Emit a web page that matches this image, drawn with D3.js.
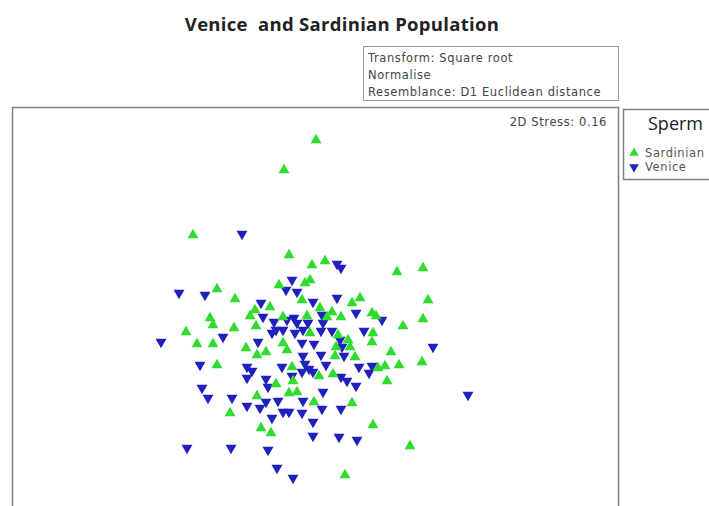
<!DOCTYPE html>
<html>
<head>
<meta charset="utf-8">
<script src="https://cdn.jsdelivr.net/npm/d3@7"></script>
<style>
  html, body { margin: 0; padding: 0; background: #fff; }
  svg { display: block; }
</style>
</head>
<body>
<svg id="chart" width="709" height="506"></svg>
<script>
// nMDS ordination coordinates (axis 1, axis 2) per sperm sample
const sardinianX = [0.01,-0.31,-1.22,-0.26,-0.03,0.10,0.82,1.08,-0.98,-0.80,-0.36,-0.10,-0.05,-0.13,0.37,0.45,1.13,-1.05,-1.02,-1.29,-0.81,-1.18,-1.02,-0.69,-0.65,-0.60,-0.45,-0.32,-0.08,0.05,0.17,0.26,0.57,0.61,0.12,-0.59,-0.05,0.33,-0.32,-0.28,-0.49,-0.58,0.21,0.23,0.35,0.20,0.40,0.88,1.08,0.58,0.57,0.76,1.07,0.84,0.70,0.63,-0.98,-0.23,0.04,0.18,0.72,-0.39,-0.22,-0.26,-0.18,-0.58,-0.01,0.37,-0.85,0.58,-0.54,-0.44,0.95,0.30];
const sardinianY = [1.67,1.37,0.72,0.52,0.42,0.46,0.35,0.39,0.18,0.08,0.22,0.24,0.27,0.07,0.04,0.09,0.07,-0.11,-0.18,-0.25,-0.21,-0.37,-0.37,-0.41,-0.09,-0.03,0.00,-0.10,-0.09,-0.01,-0.05,-0.10,-0.06,-0.09,-0.10,-0.19,-0.26,-0.33,-0.36,-0.43,-0.45,-0.48,-0.40,-0.28,-0.40,-0.49,-0.50,-0.19,-0.12,-0.26,-0.35,-0.45,-0.55,-0.58,-0.59,-0.61,-0.58,-0.60,-0.69,-0.67,-0.74,-0.77,-0.74,-0.86,-0.85,-0.89,-0.95,-0.96,-1.06,-1.18,-1.21,-1.26,-1.39,-1.68];

const veniceX = [-0.73,-1.36,-1.10,0.22,0.26,-0.23,-0.29,-0.18,-0.02,0.22,-0.54,-0.52,-0.41,-0.39,-0.21,-0.18,-0.28,0.07,0.41,0.67,-0.92,-1.54,-0.57,-0.32,-0.20,-0.43,-0.12,0.06,0.17,0.25,0.49,0.08,-0.07,-0.13,-0.01,0.27,0.29,-0.12,0.06,-0.33,-0.10,-0.06,0.44,0.54,0.57,-1.15,-0.68,-0.63,-0.68,-0.49,-0.47,-0.13,-0.02,0.11,0.26,0.32,0.41,-0.23,-1.13,-1.07,-0.83,-0.68,-0.55,-0.49,-0.37,-0.32,-0.26,-0.43,-0.12,-0.13,-0.02,0.08,0.07,0.26,-0.02,0.24,0.42,1.53,1.18,-1.28,-0.84,-0.47,-0.38,-0.22];
const veniceY = [0.73,0.14,0.12,0.43,0.39,0.27,0.17,0.15,0.05,0.09,0.04,-0.10,-0.15,-0.23,-0.11,-0.16,-0.13,-0.08,-0.06,-0.13,-0.30,-0.35,-0.35,-0.23,-0.26,-0.26,-0.23,-0.24,-0.24,-0.33,-0.24,-0.16,-0.16,-0.36,-0.37,-0.40,-0.49,-0.49,-0.48,-0.60,-0.57,-0.62,-0.60,-0.66,-0.59,-0.58,-0.60,-0.64,-0.71,-0.72,-0.80,-0.65,-0.65,-0.58,-0.70,-0.74,-0.79,-0.69,-0.81,-0.91,-0.91,-0.99,-1.01,-0.95,-0.94,-1.05,-1.05,-1.11,-0.94,-1.06,-1.15,-0.85,-1.02,-1.02,-1.29,-1.30,-1.33,-0.88,-0.40,-1.41,-1.41,-1.43,-1.61,-1.71];

const groups = ["Sardinian", "Venice"];
const groupColors = ["#2fdc2f", "#2020c0"];
const titleText = "Venice  and Sardinian Population";
const infoLines = ["Transform: Square root", "Normalise", "Resemblance: D1 Euclidean distance"];
const stressText = "2D Stress: 0.16";
const legendTitle = "Sperm";

const svg = d3.select("#chart");

// Ordination frame
const frame = { left: 12, top: 107, right: 618, bottom: 527 };
const x = d3.scaleLinear().domain([-3.03, 3.03]).range([frame.left, frame.right]);
const y = d3.scaleLinear().domain([-2.2, 2.2]).range([frame.bottom, frame.top - 20]);

svg.append("text")
  .attr("x", 342).attr("y", 31)
  .attr("text-anchor", "middle")
  .style("white-space", "pre")
  .attr("font-family", "'Open Sans', sans-serif")
  .attr("font-weight", 700)
  .attr("font-size", 18.5)
  .attr("letter-spacing", 0.3)
  .attr("fill", "#222")
  .text(titleText);

// Analysis settings box
svg.append("rect")
  .attr("x", 363.5).attr("y", 46.5).attr("width", 255).attr("height", 54)
  .attr("fill", "#fff").attr("stroke", "#999").attr("stroke-width", 1);
svg.append("g").selectAll("text").data(infoLines).join("text")
  .attr("x", 368)
  .attr("y", (d, i) => 62 + i * 17)
  .attr("font-family", "'DejaVu Sans', sans-serif")
  .attr("font-size", 11.5)
  .attr("letter-spacing", 0.6)
  .attr("fill", "#444")
  .text(d => d);

svg.append("rect")
  .attr("x", frame.left + 0.5).attr("y", frame.top + 0.5)
  .attr("width", frame.right - frame.left).attr("height", frame.bottom - frame.top)
  .attr("fill", "none").attr("stroke", "#808080").attr("stroke-width", 1.5);

svg.append("text")
  .attr("x", 607).attr("y", 126)
  .attr("text-anchor", "end")
  .attr("font-family", "'DejaVu Sans', sans-serif")
  .attr("font-size", 11.5)
  .attr("letter-spacing", 0.6)
  .attr("fill", "#444")
  .text(stressText);

// Samples, interleaved so neither group sits wholly on top
const samples = [];
const n = Math.max(sardinianX.length, veniceX.length);
for (let i = 0; i < n; i++) {
  if (i < sardinianX.length) samples.push({ g: 0, x: sardinianX[i], y: sardinianY[i] });
  if (i < veniceX.length) samples.push({ g: 1, x: veniceX[i], y: veniceY[i] });
}
const tri = d3.symbol().type(d3.symbolTriangle).size(52);

svg.append("g").selectAll("path").data(samples).join("path")
  .attr("d", tri)
  .attr("transform", d => `translate(${x(d.x)},${y(d.y)})` + (d.g === 1 ? " rotate(180)" : ""))
  .attr("fill", d => groupColors[d.g]);

// Legend
const lg = svg.append("g");
lg.append("rect")
  .attr("x", 623.5).attr("y", 109.5).attr("width", 100).attr("height", 70)
  .attr("fill", "#fff").attr("stroke", "#808080").attr("stroke-width", 1.5);
lg.append("text")
  .attr("x", 648).attr("y", 130)
  .attr("font-family", "'Open Sans', sans-serif")
  .attr("font-size", 18)
  .attr("fill", "#222")
  .text(legendTitle);
const items = lg.selectAll("g.item").data(groups).join("g")
  .attr("class", "item")
  .attr("transform", (d, i) => `translate(0,${153 + i * 14})`);
items.append("path")
  .attr("d", d3.symbol().type(d3.symbolTriangle).size(40))
  .attr("transform", (d, i) => "translate(634,0)" + (i === 1 ? " rotate(180)" : ""))
  .attr("fill", (d, i) => groupColors[i]);
items.append("text")
  .attr("x", 645).attr("y", 4)
  .attr("font-family", "'DejaVu Sans', sans-serif")
  .attr("font-size", 11.5)
  .attr("letter-spacing", 0.6)
  .attr("fill", "#555")
  .text(d => d);
</script>
</body>
</html>
